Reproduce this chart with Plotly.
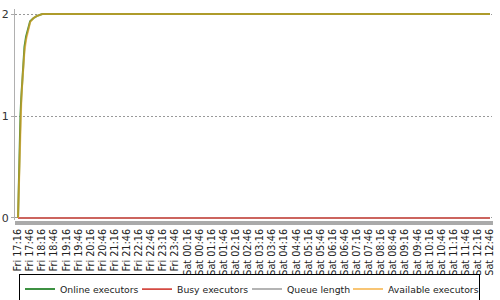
import plotly.graph_objects as go

# ---- data ----
times = [
    "2024-01-05 17:16", "2024-01-05 17:18", "2024-01-05 17:20", "2024-01-05 17:22",
    "2024-01-05 17:24", "2024-01-05 17:26", "2024-01-05 17:29", "2024-01-05 17:32",
    "2024-01-05 17:36", "2024-01-05 17:41", "2024-01-05 17:46", "2024-01-05 17:54",
    "2024-01-05 18:02", "2024-01-05 18:16", "2024-01-06 12:46",
]
online_executors = [0, 0.42, 0.74, 1.0, 1.18, 1.33, 1.5, 1.68, 1.78, 1.87, 1.93, 1.96, 1.98, 2.0, 2.0]
busy_executors = [0, 0, 0, 0, 0, 0, 0, 0, 0, 0, 0, 0, 0, 0, 0]
queue_length = [0, 0, 0, 0, 0, 0, 0, 0, 0, 0, 0, 0, 0, 0, 0]
available_executors = [0, 0.36, 0.68, 0.95, 1.13, 1.29, 1.46, 1.64, 1.75, 1.85, 1.92, 1.96, 1.98, 2.0, 2.0]

x_range = ["2024-01-05 17:08:30", "2024-01-06 12:51"]
first_tick = "2024-01-05 17:16"
y_ticks = [0, 1, 2]

FONT = "DejaVu Sans"

fig = go.Figure()
fig.add_trace(go.Scatter(x=times, y=online_executors, mode="lines", name="Online executors",
                         line=dict(color="#3d9142", width=2), legendrank=1, legendwidth=72))
fig.add_trace(go.Scatter(x=times, y=queue_length, mode="lines", name="Queue length",
                         line=dict(color="#b4b4b4", width=2), legendrank=3, legendwidth=56))
fig.add_trace(go.Scatter(x=times, y=busy_executors, mode="lines", name="Busy executors",
                         line=dict(color="#d44a42", width=1.6), legendrank=2, legendwidth=65))
fig.add_trace(go.Scatter(x=times, y=available_executors, mode="lines", name="Available executors",
                         line=dict(color="#f3a21e", width=2), opacity=0.62, legendrank=4,
                         legendwidth=86))

fig.update_layout(
    width=500, height=300,
    margin=dict(l=15, r=8, t=9, b=80, autoexpand=False),
    paper_bgcolor="white", plot_bgcolor="white",
    font=dict(family=FONT, size=10, color="#222"),
    showlegend=True,
    legend=dict(
        orientation="h", xref="container", yref="container",
        x=0.499, xanchor="center", y=0.088, yanchor="top",
        bordercolor="black", borderwidth=1, bgcolor="white",
        font=dict(family=FONT, size=9.3, color="#222"),
        traceorder="normal", itemwidth=30,
    ),
)
fig.update_xaxes(
    type="date", range=x_range,
    tick0=first_tick, dtick=30 * 60 * 1000, tickformat="%a %H:%M",
    tickangle=-90, tickfont=dict(family=FONT, size=9.7, color="#222"),
    ticks="outside", ticklen=4, tickcolor="#aaaaaa", tickwidth=1,
    minor=dict(dtick=60 * 1000, tick0=first_tick, ticks="outside", ticklen=4,
               tickcolor="#aaaaaa", tickwidth=1, showgrid=False),
    showgrid=False, showline=False, zeroline=False,
)
fig.update_yaxes(
    range=[-0.02, 2.05], tickvals=y_ticks, ticktext=[str(v) for v in y_ticks],
    tickfont=dict(family=FONT, size=11, color="#333"),
    ticks="outside", ticklen=3, tickcolor="#aaaaaa",
    showline=True, linecolor="#b0b0b0", linewidth=1,
    showgrid=True, gridcolor="#999999", griddash="2px,2px", gridwidth=1,
    zeroline=False,
)

fig.write_html("out.html")
